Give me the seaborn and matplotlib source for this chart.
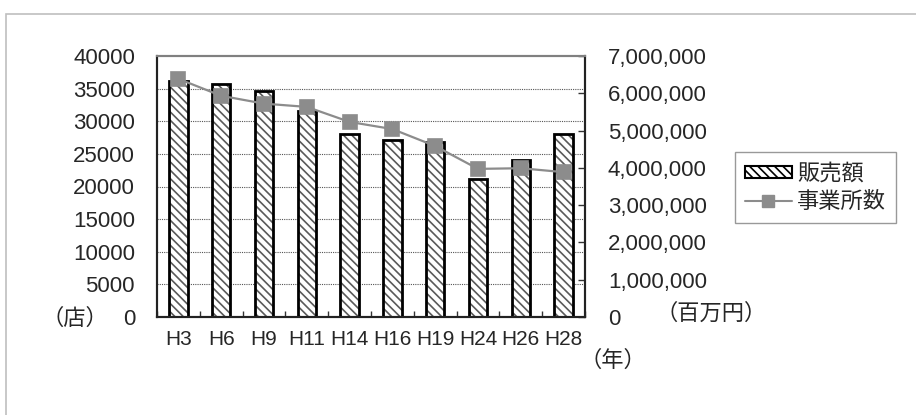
import numpy as np
import matplotlib
matplotlib.use("Agg")
import matplotlib.pyplot as plt
import matplotlib.patches as mpatches
from matplotlib.lines import Line2D
import seaborn as sns

# ---- data ----
years = ["H3", "H6", "H9", "H11", "H14", "H16", "H19", "H24", "H26", "H28"]
sales = [6320000, 6250000, 6060000, 5520000, 4900000, 4740000, 4690000, 3700000, 4220000, 4920000]  # 販売額 (百万円)
establishments = [36500, 33900, 32700, 32200, 29900, 28800, 26200, 22700, 22800, 22200]  # 事業所数 (店)
left_ticks = [0, 5000, 10000, 15000, 20000, 25000, 30000, 35000, 40000]
right_ticks = [0, 1000000, 2000000, 3000000, 4000000, 5000000, 6000000, 7000000]

sns.set_theme(style="white")
plt.rcParams["font.family"] = ["Liberation Sans", "Noto Sans CJK JP", "DejaVu Sans"]
plt.rcParams["hatch.linewidth"] = 1.2

fig = plt.figure(figsize=(9.16, 4.15), dpi=100)
fig.patch.set_facecolor("white")
ax = fig.add_axes([157 / 916, 1 - 317 / 415, (585 - 157) / 916, (317 - 56) / 415])
ax2 = ax.twinx()

# bars (right scale, 百万円)
sns.barplot(x=years, y=sales, ax=ax, color="white", edgecolor="#5a5a5a",
            hatch="\\\\\\\\", linewidth=0, width=0.43, errorbar=None, zorder=2)
n_fill = len(ax.patches)
sns.barplot(x=years, y=sales, ax=ax, color="white", edgecolor="black",
            linewidth=2.0, width=0.43, errorbar=None, zorder=3)
for p in ax.patches[n_fill:]:
    p.set_facecolor("none")

# line (left scale, 店)
sns.pointplot(x=years, y=establishments, ax=ax2, color="#8c8c8c", marker="s",
              markersize=9.5, linewidth=1.6, errorbar=None)

ax.set_ylim(0, 7000000)
ax2.set_ylim(0, 40000)
ax.set_xlim(-0.5, len(years) - 0.5)
ax2.set_xlim(-0.5, len(years) - 0.5)

# y axes sides: bars axis -> right, line axis -> left
ax.yaxis.tick_right()
ax2.yaxis.tick_left()
ax.set_yticks(right_ticks)
ax.set_yticklabels([f"{v:,}" for v in right_ticks])
ax2.set_yticks(left_ticks)
ax2.set_yticklabels([str(v) for v in left_ticks])

# grid lines aligned with left scale
ax.set_yticks(np.linspace(0, 7000000, len(left_ticks)), minor=True)
ax.grid(False)
ax2.grid(False)
ax.yaxis.grid(True, which="minor", linestyle=(0, (1, 1)), color="#555555", linewidth=0.8)
ax.set_axisbelow(True)

ax.tick_params(axis="y", which="major", direction="in", length=5, width=1, color="#333333",
               labelsize=16, pad=16.5, right=True, left=False, labelright=True, labelleft=False)
ax.tick_params(axis="y", which="minor", length=0)
ax2.tick_params(axis="y", which="major", length=0, labelsize=16, pad=15.8,
                left=False, right=False, labelleft=True, labelright=False)

# x axis
ax.set_xticks(range(len(years)))
ax.set_xticklabels(years)
ax.set_xticks(np.arange(-0.5, len(years), 1), minor=True)
ax.tick_params(axis="x", which="major", length=0, pad=9.7, labelsize=15)
ax.tick_params(axis="x", which="minor", direction="in", length=4, width=1, color="#333333", bottom=True)
for lab in ax.get_xticklabels():
    lab.set_family(["Liberation Sans Narrow", "Liberation Sans"])
ax2.tick_params(axis="x", which="both", bottom=False, labelbottom=False, top=False)
ax.set_xlabel("")
ax.set_ylabel("")
ax2.set_xlabel("")
ax2.set_ylabel("")

for a in (ax, ax2):
    for side, sp in a.spines.items():
        sp.set_visible(True)
        sp.set_linewidth(1.5)
        sp.set_color("#222222")
    a.spines["top"].set_color("#808080")

# unit labels
fig.text(74.5 / 916, 1 - 318 / 415, "（店）", ha="center", va="center", fontsize=16,
         family=["Noto Sans CJK JP", "DejaVu Sans"])
fig.text(711 / 916, 1 - 313 / 415, "（百万円）", ha="center", va="center", fontsize=16,
         family=["Noto Sans CJK JP", "DejaVu Sans"])
fig.text(613 / 916, 1 - 360 / 415, "（年）", ha="center", va="center", fontsize=16,
         family=["Noto Sans CJK JP", "DejaVu Sans"])

# legend
bar_handle = mpatches.Rectangle((0, 0), 1, 1, facecolor="white", edgecolor="black",
                                hatch="\\\\\\\\", linewidth=1.5)
line_handle = Line2D([], [], color="#8c8c8c", marker="s", markersize=9, linewidth=1.5)
leg = fig.legend([bar_handle, line_handle], ["販売額", "事業所数"], loc="upper left",
                 bbox_to_anchor=(735 / 916, 1 - 152 / 415), borderaxespad=0,
                 fancybox=False, frameon=True, edgecolor="#808080",
                 prop={"family": ["Noto Sans CJK JP"], "size": 16},
                 handlelength=2.1, handleheight=0.45, handletextpad=0.25,
                 borderpad=0.45, labelspacing=0.22)
leg.get_frame().set_linewidth(1.0)

# outer chart frame
fig.patches.append(mpatches.Rectangle((6 / 916, -0.2), 1.2, 1.2 - 14 / 415,
                                      transform=fig.transFigure, fill=False,
                                      edgecolor="#bfbfbf", linewidth=1.2))

fig.savefig("out.png", dpi=100, facecolor="white")
